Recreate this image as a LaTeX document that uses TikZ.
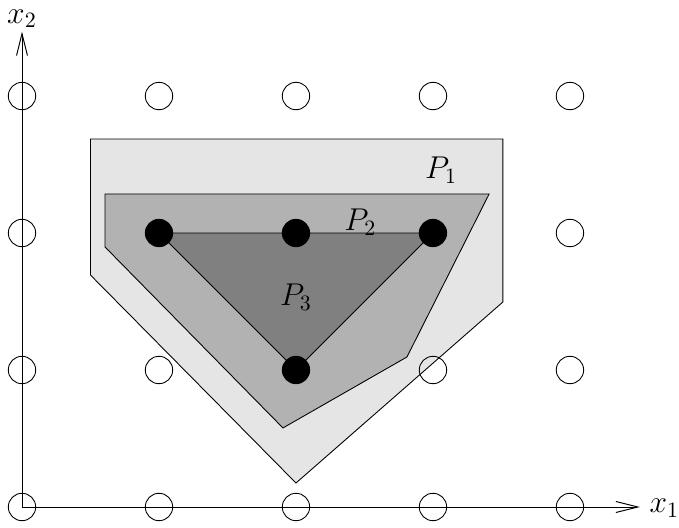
\documentclass[tikz,border=0pt]{standalone}
\usetikzlibrary{arrows.meta}
\begin{document}
\begin{tikzpicture}[x=2.2cm,y=2.2cm,
  lattice/.style={circle,draw,fill=none,minimum size=0.2*2.2cm,inner sep=0pt},
  dot/.style={circle,fill=black,minimum size=0.2*2.2cm,inner sep=0pt},
  axis/.style={line width=0.45pt,-{Straight Barb[length=10pt,width=5pt]}},
  poly/.style={draw=black,line width=0.4pt},
  lbl/.style={inner sep=0pt,font=\Large}]
\useasboundingbox (-0.1606,-0.153) rectangle (4.796,3.701);
% P1
\filldraw[poly,fill=black!10] (0.5,2.686) -- (3.51,2.686) -- (3.51,1.496) -- (2,0.175) -- (0.5,1.693) -- cycle;
% P2
\filldraw[poly,fill=black!30] (0.606,2.285) -- (3.41,2.285) -- (2.81,1.095) -- (1.905,0.577) -- (0.606,1.898) -- cycle;
% P3
\coordinate (a) at (1,2);
\coordinate (b) at (3,2);
\coordinate (c) at (2,1);
\filldraw[poly,fill=black!50] (a) -- (b) -- (c) -- cycle;
% lattice
\foreach \i in {0,...,4}{
  \foreach \j in {0,...,3}{
    \node[lattice] (l\i\j) at (\i,\j) {};
  }
}
\node[dot] (d1) at (a) {};
\node[dot] (d2) at (b) {};
\node[dot] (d3) at (c) {};
\node[dot] (d4) at (2,2) {};
% axes
\coordinate (o) at (0,0);
\coordinate (xe) at (4.51,0);
\coordinate (ye) at (0,3.47);
\draw[axis] (o) -- (xe);
\draw[axis] (o) -- (ye);
\node[lbl] (x1) at (4.69,-0.01) {$x_1$};
\node[lbl] (x2) at (0,3.565) {$x_2$};
% labels
\node[lbl] (p1) at (3.06,2.46) {$P_1$};
\node[lbl] (p2) at (2.47,2.08) {$P_2$};
\node[lbl] (p3) at (2,1.53) {$P_3$};
\end{tikzpicture}
\end{document}
